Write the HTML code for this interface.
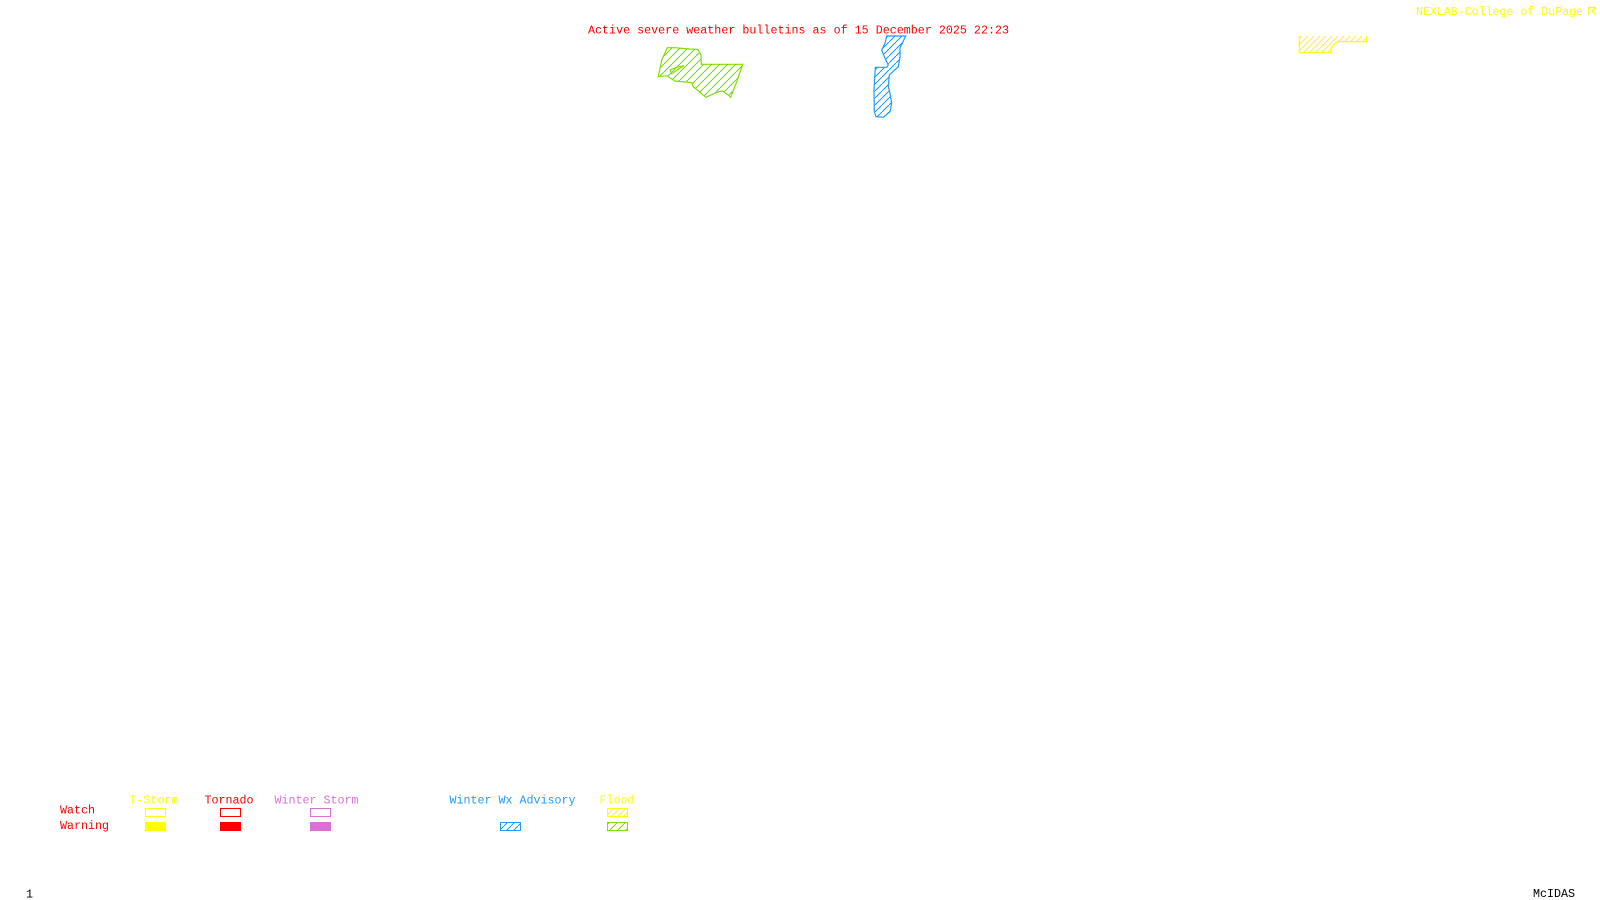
<!DOCTYPE html>
<html lang="en">
<head>
<meta charset="utf-8">
<title>Active severe weather bulletins</title>
<style>
html,body{margin:0;padding:0;background:#fff;width:1600px;height:900px;overflow:hidden}
svg{display:block}
text{font-family:"Liberation Mono",monospace;font-size:11.67px;white-space:pre}
</style>
</head>
<body>
<svg width="1600" height="900" viewBox="0 0 1600 900" xmlns="http://www.w3.org/2000/svg">
<defs>
<pattern id="hg" width="8" height="8" patternUnits="userSpaceOnUse"><path d="M-1 9L9 -1" stroke="#7fdf00" stroke-width="1" shape-rendering="crispEdges"/></pattern>
<pattern id="hb" width="7" height="7" patternUnits="userSpaceOnUse"><path d="M-1 8L8 -1" stroke="#1e9bff" stroke-width="1" shape-rendering="crispEdges"/></pattern>
<pattern id="hy" width="6" height="6" patternUnits="userSpaceOnUse"><path d="M-1 7L7 -1" stroke="#ffff00" stroke-width="1" shape-rendering="crispEdges"/></pattern>
</defs>
<rect width="1600" height="900" fill="#fff"/>

<text x="588" y="33.5" fill="#ff0000" textLength="421">Active severe weather bulletins as of 15 December 2025 22:23</text>
<text x="1416" y="15" fill="#ffff00" textLength="167">NEXLAB-College of DuPage</text>
<path d="M1596 7.5H1588.8V15M1596 7.5L1592 11L1596 15" fill="none" stroke="#ffff00" stroke-width="1.3"/>

<polygon points="658.3,76.7 661.7,60 667.3,47.7 675,47.7 689.3,49 697.7,49.3 701,55 701.3,64.3 742.7,64.3 736.7,81.7 730.7,97.3 728.3,95 722.3,91 716.7,92.3 706,97.3 700,92.3 693.3,86.7 691.7,82.7 675,81 666.7,75.7" fill="url(#hg)" stroke="#7fdf00" stroke-width="1.2"/>
<polygon points="670,70 676.7,67.3 684,65.7 678.3,69.3 671.7,73.7" fill="none" stroke="#7fdf00" stroke-width="1.2"/>

<polygon points="886.7,36 905.7,36 900,48 900,56.7 898.3,66.7 889.3,75 888.3,86.7 890,93.3 891.7,103 890,111.7 883.3,117.3 876,116.7 874.3,111.7 874,90 875.3,67.3 886.7,67.3 888.3,65 885,58.3 881.7,50 885,43.3" fill="url(#hb)" stroke="#1e9bff" stroke-width="1.2"/>

<polygon points="1299.3,36 1366.7,36 1366.7,41.7 1338.3,41.7 1335,43.3 1331,48.3 1331,52.7 1299.3,52.7" fill="url(#hy)" stroke="none"/>
<path d="M1299.3 36V52.7H1331V48.3L1335 43.3L1338.3 41.7H1366.7V36" fill="none" stroke="#ffff00" stroke-width="1.2"/>

<text x="129.3" y="803.5" fill="#ffff00" textLength="49">T-Storm</text>
<text x="204.5" y="803.5" fill="#ff0000" textLength="49">Tornado</text>
<text x="274.5" y="803.5" fill="#da70d6" textLength="84">Winter Storm</text>
<text x="449.5" y="803.5" fill="#1e9bff" textLength="126">Winter Wx Advisory</text>
<text x="599.5" y="803.5" fill="#ffff00" textLength="35">Flood</text>
<text x="60" y="813.5" fill="#ff0000" textLength="35">Watch</text>
<text x="60" y="829" fill="#ff0000" textLength="49">Warning</text>

<g stroke-width="1" shape-rendering="crispEdges">
<rect x="145.5" y="808.5" width="20" height="8" fill="none" stroke="#ffff00"/>
<rect x="220.5" y="808.5" width="20" height="8" fill="none" stroke="#ff0000"/>
<rect x="310.5" y="808.5" width="20" height="8" fill="none" stroke="#da70d6"/>
<rect x="607.5" y="808.5" width="20" height="8" fill="url(#hy)" stroke="#ffff00"/>
<rect x="145" y="822" width="21" height="9" fill="#ffff00"/>
<rect x="220" y="822" width="21" height="9" fill="#ff0000"/>
<rect x="310" y="822" width="21" height="9" fill="#da70d6"/>
<rect x="500.5" y="822.5" width="20" height="8" fill="url(#hb)" stroke="#1e9bff"/>
<rect x="607.5" y="822.5" width="20" height="8" fill="url(#hg)" stroke="#7fdf00"/>
</g>

<text x="26" y="897.5" fill="#000">1</text>
<text x="1533" y="897" fill="#000" textLength="42">McIDAS</text>
</svg>
</body>
</html>
